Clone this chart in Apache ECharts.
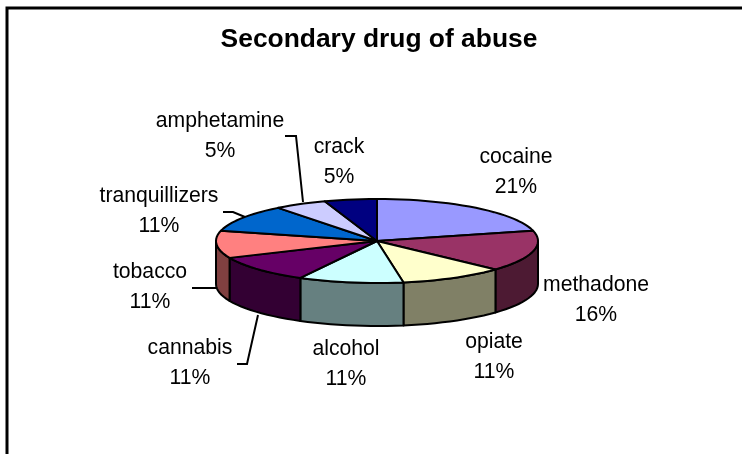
<!DOCTYPE html>
<html><head><meta charset="utf-8">
<style>html,body{margin:0;padding:0;background:#fff}#c{width:742px;height:454px}</style>
<script src="https://cdn.jsdelivr.net/npm/echarts@6/dist/echarts.min.js"></script>
</head><body><div id="c"></div>
<script>
var categories=['cocaine','methadone','opiate','alcohol','cannabis','tobacco','tranquillizers','amphetamine','crack'];
var values=[4,3,2,2,2,2,2,1,1];
var percentLabels=['21%','16%','11%','11%','11%','11%','11%','5%','5%'];
var topColors=['#9999FF','#993366','#FFFFCC','#CCFFFF','#660066','#FF8080','#0066CC','#CCCCFF','#000080'];
var sideColors=['#4D4D80','#4D1A33','#808066','#668080','#330033','#804040','#003366','#666680','#000040'];
var labelCenters=[[516,172],[596,300],[494,357],[346,364],[190,363],[150,287],[159,211],[220,136],[339,162]];
var leaderLines=[[[285,136],[296,136],[303,202]],[[223,212],[233,212],[245,217]],[[192,288],[216,288]],[[237,364],[247,364],[258,315]]];
var cx=377,cy=241,rx=161,ry=42,depth=43,LW=2;
var total=values.reduce(function(a,b){return a+b},0);
function pt(d,off){var r=d*Math.PI/180;return [cx+rx*Math.sin(r),cy-ry*Math.cos(r)+(off||0)];}
function arc(a,b,off){var n=Math.max(2,Math.ceil(Math.abs(b-a)/3)),p=[];for(var i=0;i<=n;i++)p.push(pt(a+(b-a)*i/n,off));return p;}
var cum=[0];values.forEach(function(v,i){cum.push(cum[i]+v)});
var chart=echarts.init(document.getElementById('c'),null,{renderer:'canvas'});
chart.setOption({
 animation:false,
 backgroundColor:'#fff',
 title:{text:'Secondary drug of abuse',left:374,top:22,textAlign:'center',textStyle:{fontFamily:'Liberation Sans',fontSize:26.4,fontWeight:'bold',color:'#000'}},
 xAxis:{show:false},yAxis:{show:false},
 series:[{
  type:'custom',coordinateSystem:'none',silent:true,
  data:values.map(function(v,i){return {value:[v,i],name:categories[i]}}),
  renderItem:function(params,api){
   var i=api.value(1),a0=cum[i]/total*360,a1=cum[i+1]/total*360,ch=[];
   var s0=Math.max(a0,90),s1=Math.min(a1,270);
   if(s1>s0){
     ch.push({type:'polygon',shape:{points:arc(s0,s1,0).concat(arc(s1,s0,depth))},style:{fill:sideColors[i],stroke:'#000',lineWidth:LW,lineJoin:'round'}});
   }
   ch.push({type:'polygon',shape:{points:[[cx,cy]].concat(arc(a0,a1,0))},style:{fill:topColors[i],stroke:'#000',lineWidth:LW,lineJoin:'round'}});
   var c=labelCenters[i];
   ch.push({type:'text',z2:5,style:{x:c[0],y:c[1],text:categories[i]+'\n'+percentLabels[i],align:'center',verticalAlign:'middle',lineHeight:30,font:'21.2px "Liberation Sans"',fill:'#000'}});
   return {type:'group',children:ch};
  }
 }],
 graphic:leaderLines.map(function(p){return {type:'polyline',z:10,shape:{points:p},style:{fill:null,stroke:'#000',lineWidth:2}}}).concat([
  {type:'polyline',z:10,shape:{points:[[7,454],[7,8],[742,8]]},style:{fill:null,stroke:'#000',lineWidth:3}}
 ])
});
</script></body></html>
